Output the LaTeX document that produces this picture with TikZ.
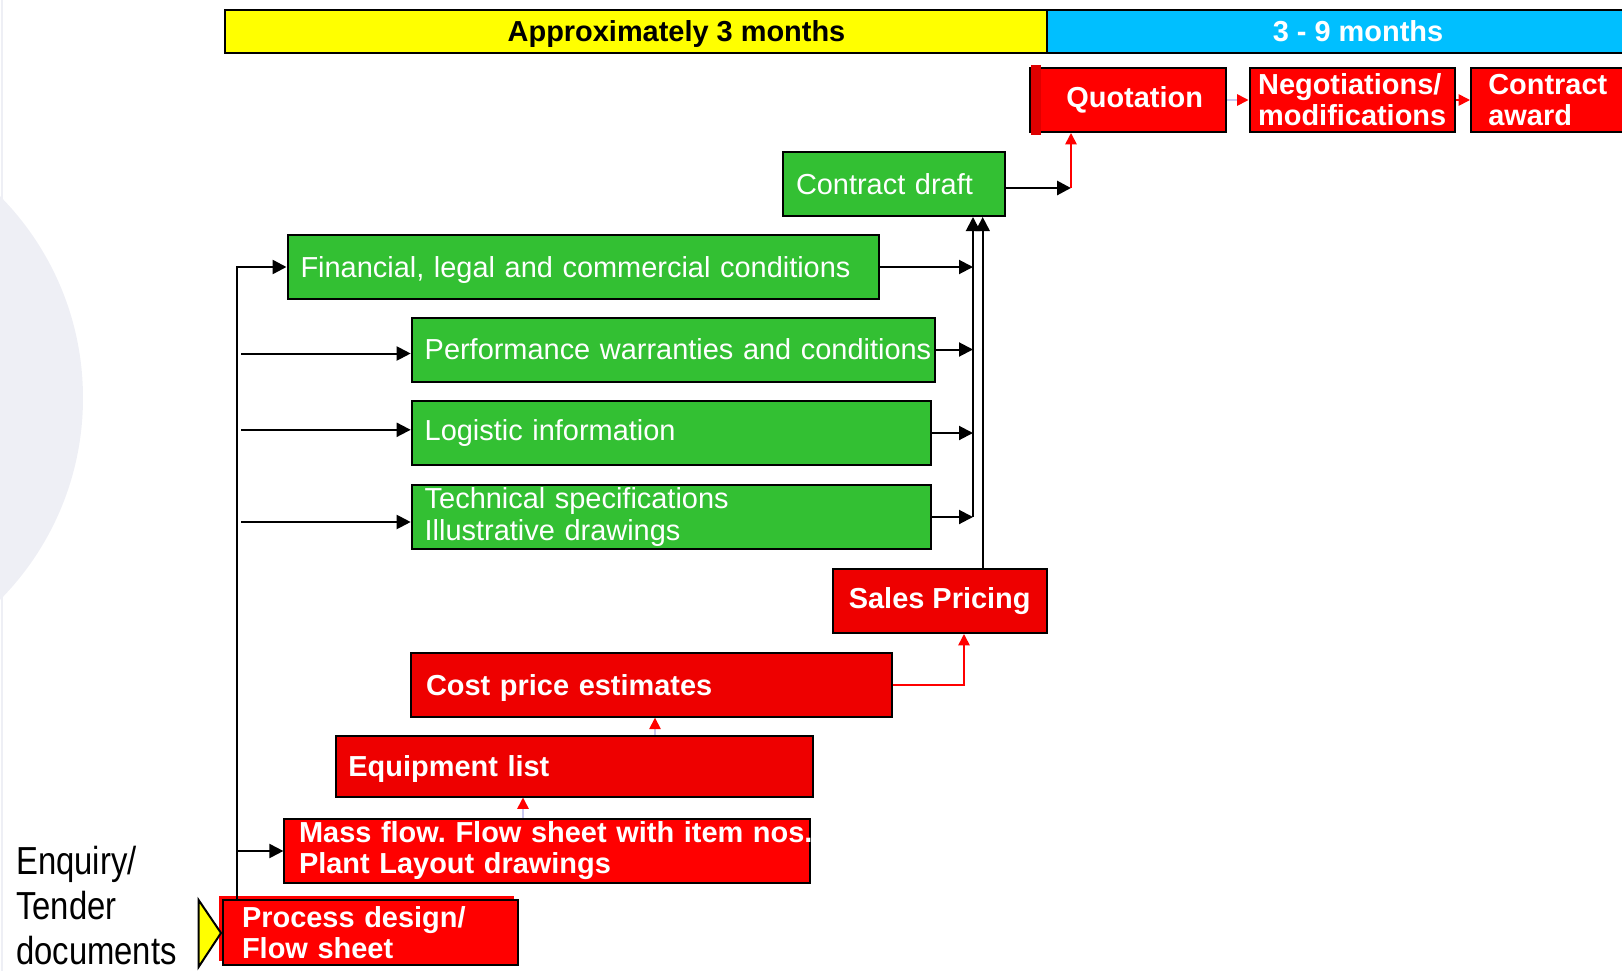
\documentclass[tikz,border=0pt]{standalone}
\usepackage{fontspec}
\setmainfont{Liberation Sans}
\newfontfamily\narrowfont[FakeStretch=0.84]{Liberation Sans}
\usepackage{tikz}
\usetikzlibrary{arrows.meta,calc}
\frenchspacing

\definecolor{hdryellow}{RGB}{255,255,0}
\definecolor{hdrblue}{RGB}{0,191,255}
\definecolor{boxgreen}{RGB}{51,192,51}
\definecolor{boxred}{RGB}{255,0,0}
\definecolor{boxdarkred}{RGB}{238,0,0}
\definecolor{stripred}{RGB}{222,0,0}
\definecolor{lavline}{RGB}{200,200,240}
\definecolor{globe}{RGB}{238,239,245}

\tikzset{
  gbox/.style={draw=black, line width=1.5pt, fill=boxgreen, text=white, anchor=north west,
    minimum height=48pt, inner xsep=9.75pt, inner ysep=0pt, align=left,
    font=\fontsize{21.7}{23.3}\selectfont},
  rbox/.style={gbox, fill=boxred, font=\fontsize{21.7}{23.3}\selectfont\bfseries},
  arr/.style={line width=1.5pt, -{Triangle[length=10.5pt,width=10.5pt]}},
  rarr/.style={line width=1.2pt, draw=red, -{Triangle[length=8.5pt,width=8.5pt,color=red]}},
  larr/.style={line width=1.2pt, draw=lavline, -{Triangle[length=8.5pt,width=8.5pt,color=red]}},
}

\begin{document}
\begin{tikzpicture}[x=0.75pt,y=0.75pt,yscale=-1,xscale=1]
\useasboundingbox (0,0) rectangle (1622,971);

%Globe in the background
\fill[globe] (-204,398) circle (287);
\draw[globe, line width=1pt] (2,0) -- (2,971);

%Header bars
\draw[line width=1.5pt, fill=hdryellow] (224.5,10.3) rectangle (1046.8,52.8);
\draw[line width=1.5pt, fill=hdrblue] (1046.8,10.3) rectangle (1640,52.8);
% Text Node
\node[font=\fontsize{21.7}{23.3}\selectfont\bfseries] (hdrA) at (676.5,34) {Approximately 3 months};
% Text Node
\node[font=\fontsize{21.7}{23.3}\selectfont\bfseries, text=white] (hdrB) at (1358,31) {3 - 9 months};

%Red offset frame behind the first box
\fill[boxred] (219.4,896) rectangle (514,961);

%Boxes
\node[rbox, minimum width=147pt, align=center] (quot) at (1029,67) {\hspace*{10pt}Quotation};
\node[rbox, minimum width=154pt, inner xsep=6pt] (nego) at (1248.5,67) {Negotiations/\\modifications};
\node[rbox, text width=109pt, inner xsep=13pt] (award) at (1470,67) {Contract\\award};
\node[gbox, text width=147pt] (draft) at (782,151) {Contract draft};
\node[gbox, text width=424.1pt, text depth=0pt] (fin) at (286.5,234) {Financial, legal and commercial conditions};
\node[gbox, text width=373pt] (perf) at (410.7,316.5) {\mbox{Performance warranties and conditions}};
\node[gbox, text width=370pt] (logi) at (410.7,400) {Logistic information};
\node[gbox, text width=370pt] (tech) at (410.7,484) {Technical specifications\\Illustrative drawings};
\node[rbox, fill=boxdarkred, minimum width=160.5pt, align=center] (sales) at (831.7,568) {Sales Pricing};
\node[rbox, fill=boxdarkred, text width=337.5pt, inner xsep=11.6pt, text depth=0pt] (cost) at (409.6,651.7) {Cost price estimates};
\node[rbox, fill=boxdarkred, text width=339.2pt, inner xsep=9.3pt, minimum height=45.75pt, text depth=0pt] (equip) at (335,734.5) {Equipment list};
\node[rbox, text width=372.2pt, inner xsep=11pt] (mass) at (283.4,818) {\mbox{Mass flow. Flow sheet with item nos.}\\Plant Layout drawings};
\node[rbox, text width=193pt, inner xsep=14pt, minimum height=48.75pt] (proc) at (222.4,899) {Process design/\\Flow sheet};

%Darker strip on the left of the quotation box
\fill[stripred] ([xshift=1.6pt,yshift=-1.6pt]quot.north west) rectangle ([xshift=9pt,yshift=1.6pt]quot.south west);

%Start marker
\draw[line width=1.5pt, fill=hdryellow] (198.6,900) -- (221,933) -- (198.6,967) -- cycle;
% Text Node
\node[anchor=base west, align=left, inner sep=0pt, font=\narrowfont\fontsize{29.3}{33.5}\selectfont] (enq) at (16,964) {Enquiry/\\Tender\\documents};

%Helper coordinates
\coordinate (tb) at (237,899);
\coordinate (tl) at (241,0);
\coordinate (cx) at (973,0);
\coordinate (sy) at (982.7,0);
\coordinate (qj) at (1071,0);
\coordinate (sx) at (964,0);
\coordinate (ea) at (523,0);
\coordinate (ca) at (655,0);

%Left side
\draw[arr, line width=1.9pt] (tb) |- (fin.west);
\draw[arr] (tb |- mass.west) -- (mass.west);
\draw[arr] ([yshift=3pt]perf.west -| tl) -- ([yshift=3pt]perf.west);
\draw[arr] ([yshift=-2.4pt]logi.west -| tl) -- ([yshift=-2.4pt]logi.west);
\draw[arr] ([yshift=3.75pt]tech.west -| tl) -- ([yshift=3.75pt]tech.west);

%Right side
\draw[arr] (fin.east) -- (fin.east -| cx);
\draw[arr] (perf.east) -- (perf.east -| cx);
\draw[arr] (logi.east) -- (logi.east -| cx);
\draw[arr] (tech.east) -- (tech.east -| cx);
\draw[arr] (tech.east -| cx) -- (draft.south -| cx);
\draw[arr] (sales.north -| sy) -- (draft.south -| sy);
\draw[arr, line width=2.2pt] ([yshift=3pt]draft.east) -- ([yshift=3pt]draft.east -| qj);
\draw[rarr] ([yshift=3pt]draft.east -| qj) -- (quot.south -| qj);
\draw[larr] (quot.east) -- (nego.west);
\draw[rarr] (nego.east) -- (award.west);

%Red chain
\draw[larr] (mass.north -| ea) -- (equip.south -| ea);
\draw[larr] (equip.north -| ca) -- (cost.south -| ca);
\draw[rarr] (cost.east) -| (sales.south -| sx);

\end{tikzpicture}
\end{document}
